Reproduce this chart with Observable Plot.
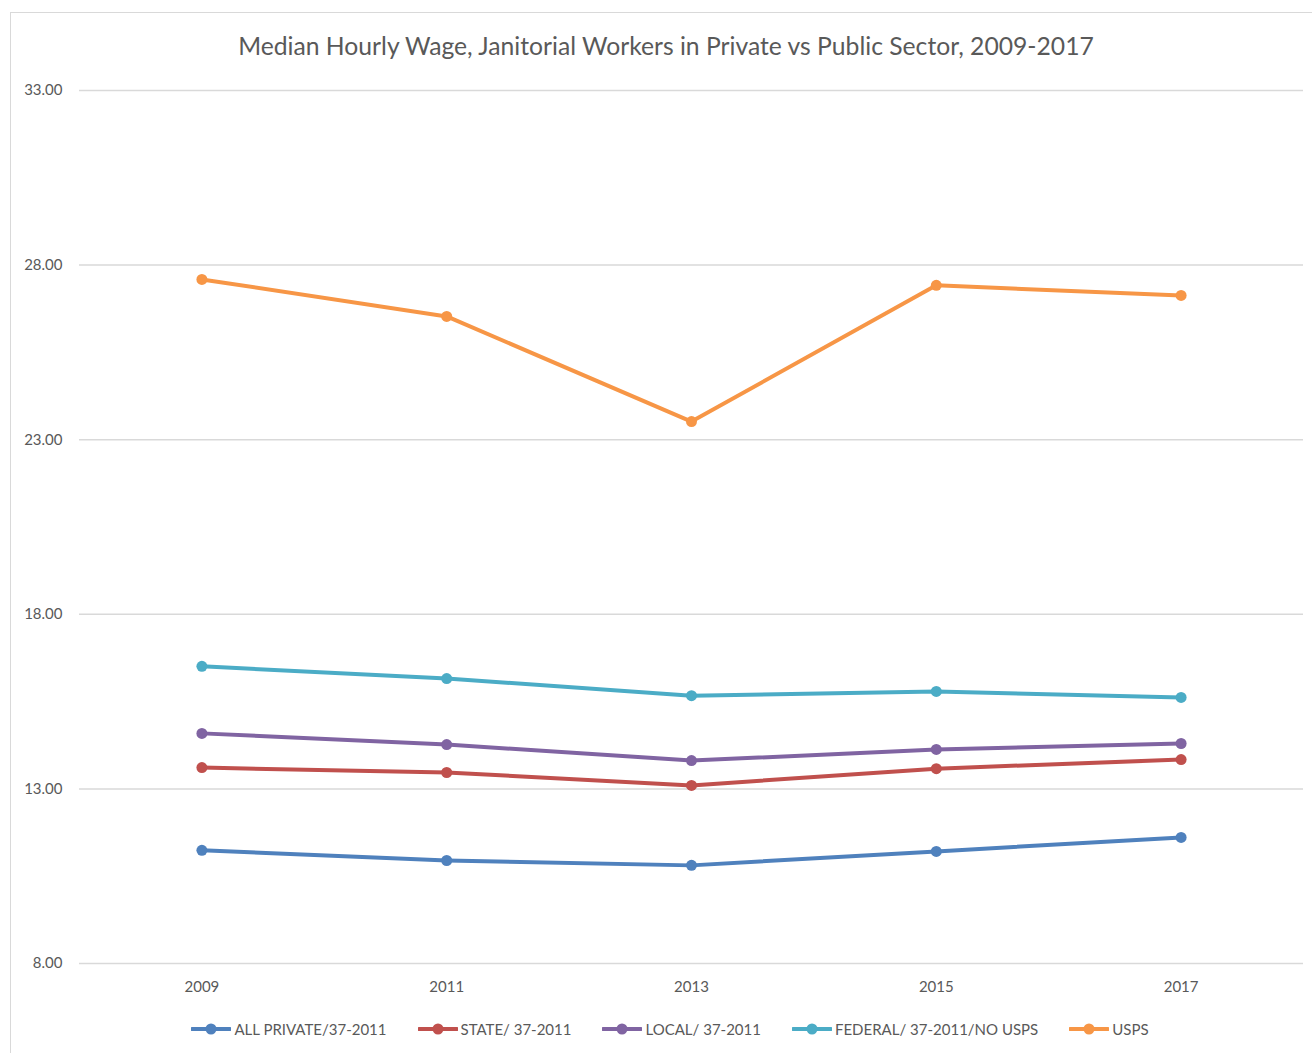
<!DOCTYPE html>
<html>
<head>
<meta charset="utf-8">
<script src="https://cdn.jsdelivr.net/npm/d3@7"></script>
<script src="https://cdn.jsdelivr.net/npm/@observablehq/plot@0.6"></script>
<style>
  html, body { margin: 0; padding: 0; background: #fff; overflow: hidden; width: 1312px; height: 1053px; }
  body { position: relative; font-family: Lato, "Open Sans", sans-serif; color: #595959; }
  #frame { position: absolute; left: 10px; top: 12px; width: 1310px; height: 1050px; border: 1.5px solid #d9d9d9; box-sizing: border-box; }
  #title { position: absolute; left: 0; top: 31px; width: 1332px; text-align: center; font-size: 24.7px; color: #595959; }
  #chart { position: absolute; left: 0; top: 70px; }
  #legend { position: absolute; left: 0; top: 1020px; width: 1340px; display: flex; justify-content: center; gap: 31px; font-size: 15px; color: #595959; }
  .item { display: flex; align-items: center; gap: 3px; }
</style>
</head>
<body>
<div id="frame"></div>
<div id="title">Median Hourly Wage, Janitorial Workers in Private vs Public Sector, 2009-2017</div>
<div id="chart"></div>
<div id="legend"></div>
<script>
const years = ["2009", "2011", "2013", "2015", "2017"];
const seriesNames = ["ALL PRIVATE/37-2011", "STATE/ 37-2011", "LOCAL/ 37-2011", "FEDERAL/ 37-2011/NO USPS", "USPS"];
const seriesColors = ["#4F81BD", "#C0504D", "#8064A2", "#4BACC6", "#F79646"];
const allPrivate = [11.24, 10.95, 10.81, 11.21, 11.61];
const stateVals = [13.61, 13.47, 13.10, 13.58, 13.84];
const localVals = [14.59, 14.27, 13.81, 14.13, 14.30];
const federalVals = [16.51, 16.16, 15.67, 15.79, 15.62];
const uspsVals = [27.59, 26.53, 23.52, 27.42, 27.13];
const yTicks = [8, 13, 18, 23, 28, 33];

const seriesValues = [allPrivate, stateVals, localVals, federalVals, uspsVals];
const data = [];
seriesNames.forEach((s, i) => {
  years.forEach((yr, j) => data.push({series: s, year: yr, value: seriesValues[i][j]}));
});

const chart = Plot.plot({
  width: 1312,
  height: 935,
  marginLeft: 79,
  marginRight: 9,
  marginTop: 20,
  marginBottom: 42,
  style: {fontFamily: "Lato, 'Open Sans', sans-serif", fontSize: "15px", color: "#595959", background: "transparent"},
  x: {type: "point", domain: years, padding: 0.5, round: false, label: null},
  y: {domain: [8, 33], label: null},
  color: {domain: seriesNames, range: seriesColors},
  marks: [
    Plot.ruleY(yTicks, {stroke: "#d9d9d9", strokeWidth: 1.5}),
    Plot.axisY(yTicks, {tickSize: 0, tickPadding: 17, tickFormat: d3.format(".2f"), fill: "#595959", fontSize: 15, label: null}),
    Plot.axisX({tickSize: 0, tickPadding: 18, fill: "#595959", fontSize: 15, label: null}),
    Plot.line(data, {x: "year", y: "value", z: "series", stroke: "series", strokeWidth: 4, strokeLinejoin: "round"}),
    Plot.dot(data, {x: "year", y: "value", fill: "series", r: 5.5})
  ]
});
document.getElementById("chart").appendChild(chart);

const legend = document.getElementById("legend");
seriesNames.forEach((s, i) => {
  const item = document.createElement("div");
  item.className = "item";
  item.innerHTML = `<svg width="40" height="14"><line x1="1" y1="7" x2="39" y2="7" stroke="${seriesColors[i]}" stroke-width="4" stroke-linecap="round"/><circle cx="20" cy="7" r="5.5" fill="${seriesColors[i]}"/></svg><span>${s}</span>`;
  legend.appendChild(item);
});
</script>
</body>
</html>
